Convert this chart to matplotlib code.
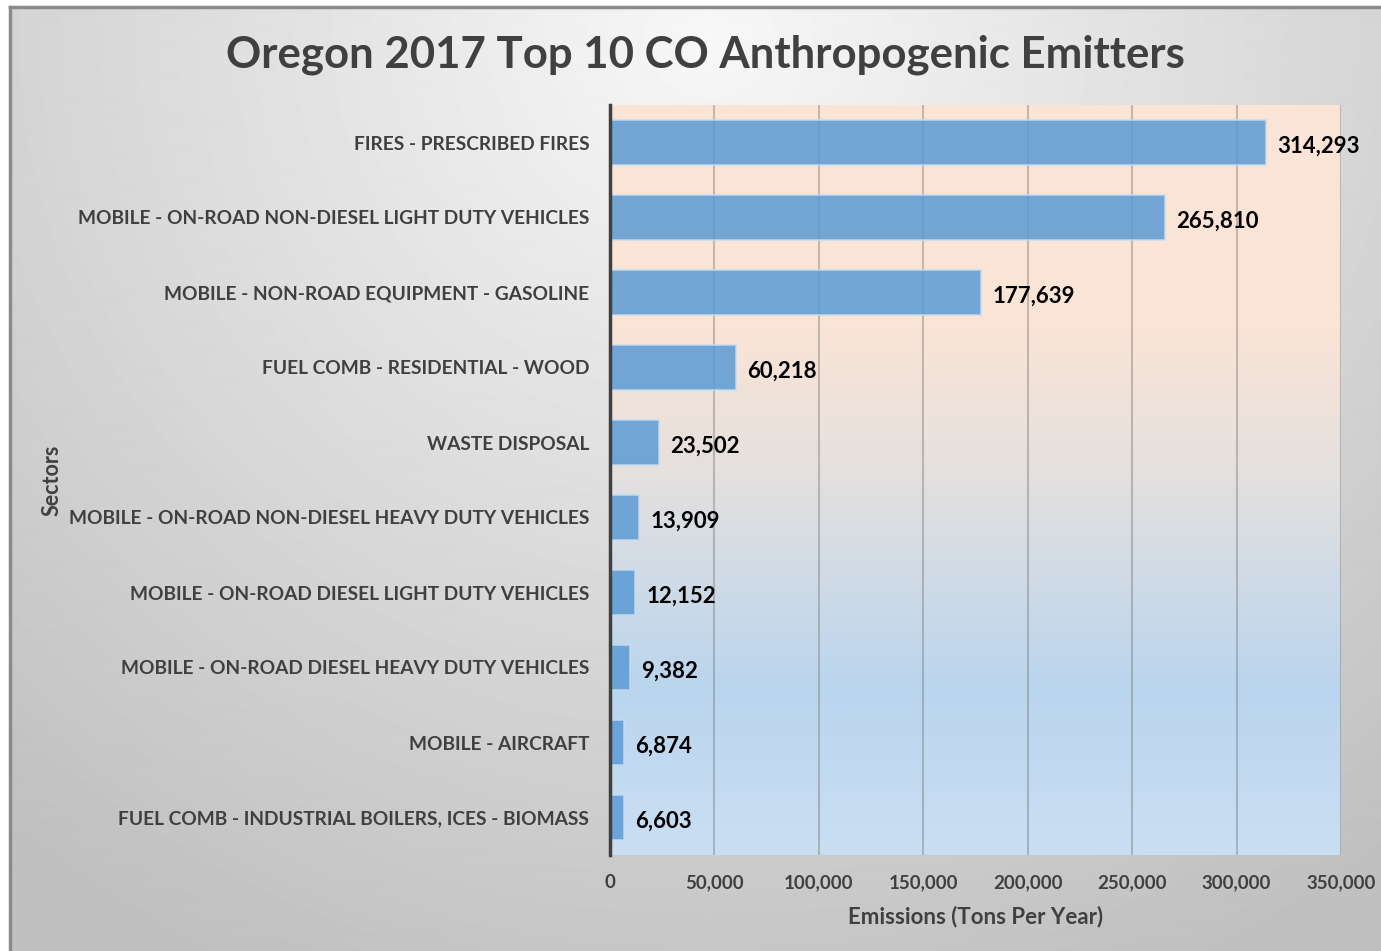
import matplotlib

matplotlib.use("Agg")
import matplotlib.pyplot as plt
import numpy as np
from matplotlib.colors import LinearSegmentedColormap

SECTORS = [
    "FIRES - PRESCRIBED FIRES",
    "MOBILE - ON-ROAD NON-DIESEL LIGHT DUTY VEHICLES",
    "MOBILE - NON-ROAD EQUIPMENT - GASOLINE",
    "FUEL COMB - RESIDENTIAL - WOOD",
    "WASTE DISPOSAL",
    "MOBILE - ON-ROAD NON-DIESEL HEAVY DUTY VEHICLES",
    "MOBILE - ON-ROAD DIESEL LIGHT DUTY VEHICLES",
    "MOBILE - ON-ROAD DIESEL HEAVY DUTY VEHICLES",
    "MOBILE - AIRCRAFT",
    "FUEL COMB - INDUSTRIAL BOILERS, ICES - BIOMASS",
]
EMISSIONS = [314293, 265810, 177639, 60218, 23502, 13909, 12152, 9382, 6874, 6603]
XTICKS = [0, 50000, 100000, 150000, 200000, 250000, 300000, 350000]
X_MAX = 350000

TITLE = "Oregon 2017 Top 10 CO Anthropogenic Emitters"
XLABEL = "Emissions (Tons Per Year)"
YLABEL = "Sectors"

W, H = 1381, 951
FONT = "Lato"
COLOR_TEXT = "#404040"
COLOR_BAR = "#5b9bd5"

plt.rcParams["font.family"] = [FONT, "DejaVu Sans"]

fig = plt.figure(figsize=(W / 100, H / 100), dpi=100)
fig.patch.set_facecolor("white")

# chart area: grey radial gradient with a thin border
bg = fig.add_axes([10 / W, 0, 1 - 10 / W, 1 - 7 / H], zorder=-10)
yy, xx = np.mgrid[0:945, 0:1371]
dist = np.hypot((xx - 700) / 1000.0, (yy - 30) / 950.0)
shade = np.clip(0.97 - 0.2 * dist, 0.75, 0.97)
bg.imshow(shade, cmap="gray", vmin=0, vmax=1, aspect="auto", interpolation="bilinear")
bg.set_xticks([])
bg.set_yticks([])
for side in ("top", "left"):
    bg.spines[side].set_color("#8a8a8a")
    bg.spines[side].set_linewidth(2.5)
for side in ("right", "bottom"):
    bg.spines[side].set_visible(False)

# plot area: peach -> blue vertical gradient
ax = fig.add_axes([610 / W, 96 / H, 731 / W, 750 / H])
plot_cmap = LinearSegmentedColormap.from_list(
    "plotbg",
    [(0.0, "#fbe5d6"), (0.3, "#fae4d6"), (0.5, "#e3e0df"), (0.78, "#bad5ee"), (1.0, "#cadff3")],
)
grad = np.linspace(0, 1, 256).reshape(-1, 1)
ax.imshow(grad, cmap=plot_cmap, aspect="auto", extent=(0, X_MAX, len(SECTORS) - 0.5, -0.5),
          origin="upper", zorder=0)

ypos = np.arange(len(SECTORS))
ax.barh(ypos, EMISSIONS, height=0.59, color=COLOR_BAR, alpha=0.85,
        edgecolor="#c5dcf0", linewidth=1.2, zorder=2)

for y, v in zip(ypos, EMISSIONS):
    ax.annotate(f"{v:,}", (v, y), xytext=(8, -2.5), textcoords="offset points",
                ha="left", va="center", fontsize=16, fontweight="bold", color="black")

ax.set_xlim(0, X_MAX)
ax.set_ylim(len(SECTORS) - 0.5, -0.5)
ax.set_xticks(XTICKS)
ax.set_xticklabels([f"{t:,}" for t in XTICKS])
ax.set_yticks(ypos)
ax.set_yticklabels(SECTORS)
ax.tick_params(length=0, labelsize=13.5, labelcolor=COLOR_TEXT)
ax.tick_params(axis="y", labelsize=13.8, pad=15)
ax.tick_params(axis="x", pad=14)
for lab in ax.get_xticklabels() + ax.get_yticklabels():
    lab.set_fontweight("bold")

ax.grid(True, axis="x", color="#7f7f7f", alpha=0.45, linewidth=1.5, zorder=1)
ax.set_axisbelow(True)
for side in ("top", "right", "bottom"):
    ax.spines[side].set_visible(False)
ax.spines["left"].set_color(COLOR_TEXT)
ax.spines["left"].set_linewidth(2.5)
ax.spines["left"].set_zorder(5)

ax.set_xlabel(XLABEL, fontsize=16, fontweight="bold", color=COLOR_TEXT, labelpad=10)
fig.text(52 / W, 1 - 480 / H, YLABEL, rotation=90, ha="center", va="center",
         fontsize=15.5, fontweight="bold", color=COLOR_TEXT)

fig.text(705 / W, 1 - 55 / H, TITLE, ha="center", va="center",
         fontsize=31.5, fontweight="bold", color=COLOR_TEXT)

fig.savefig("out.png", dpi=100)
